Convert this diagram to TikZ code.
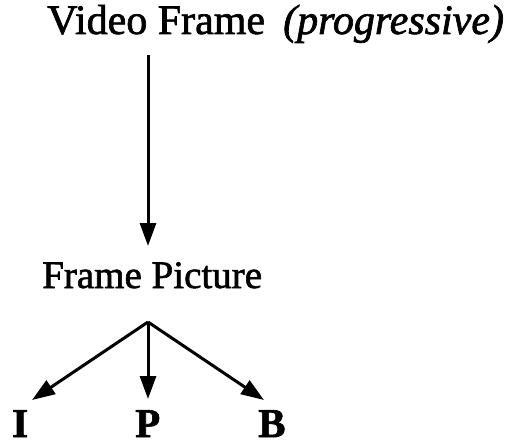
\documentclass[tikz,border=0pt]{standalone}
\usepackage{fontspec}
\setmainfont{Liberation Serif}[FakeBold=1.6]
\usetikzlibrary{arrows.meta}
\begin{document}
\begin{tikzpicture}[x=1pt,y=-1pt,
  lbl/.style={inner sep=0pt,anchor=base west,font=\fontsize{42}{44}\selectfont},
  sub/.style={inner sep=0pt,anchor=base west,font=\fontsize{39}{41}\selectfont},
  big/.style={inner sep=0pt,anchor=base west,font=\fontsize{41}{43}\selectfont\bfseries},
  conn/.style={line width=3pt,-{Triangle[length=23pt,width=16pt]}}]
\useasboundingbox (0,0) rectangle (505,446);
\node[lbl] (vf) at (47,34) {Video Frame};
\node[lbl] (prog) at (283,34) {\itshape (progressive)};
\node[sub] (fp) at (42,288) {Frame Picture};
\node[big] (i) at (12,437) {I};
\node[big] (p) at (135,437) {P};
\node[big] (b) at (258,437) {B};
\coordinate (top) at (148,55);
\coordinate (mid) at (148,246);
\coordinate (root) at (148,322);
\coordinate (ti) at (32,400);
\coordinate (tp) at (148,399);
\coordinate (tb) at (264,400);
\draw[conn] (top) -- (mid);
\draw[conn] (root) -- (ti);
\draw[conn] (root) -- (tp);
\draw[conn] (root) -- (tb);
\end{tikzpicture}
\end{document}
